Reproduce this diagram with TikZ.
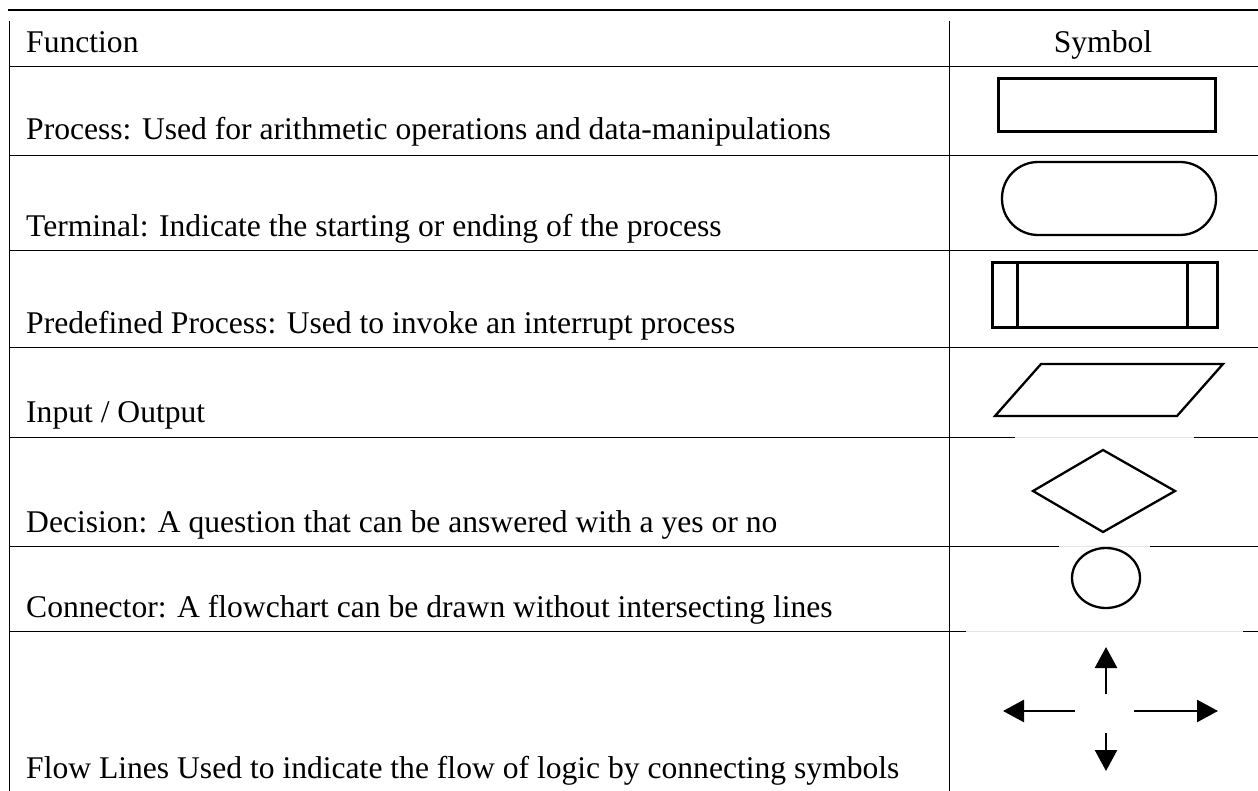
\documentclass[tikz,border=0pt]{standalone}
\usepackage{fontspec}
\setmainfont{Liberation Serif}
\usetikzlibrary{arrows.meta}
\begin{document}
\begin{tikzpicture}[x=1pt,y=-1pt,
  rule/.style={line width=1pt},
  toprule/.style={line width=2.4pt},
  gaprule/.style={line width=1pt, black!10},
  symthick/.style={line width=3pt, line join=miter},
  symthin/.style={line width=2.3pt, line join=miter},
  label/.style={anchor=base west, inner sep=0pt, font=\fontsize{31.6}{36}\selectfont},
  head/.style={anchor=base, inner sep=0pt, font=\fontsize{31.6}{36}\selectfont},
  flow/.style={line width=2.6pt, -{Triangle[length=21pt,width=22pt]}}
]
\useasboundingbox (0,0) rectangle (1258,791);

% table frame and rules
\draw[toprule] (8,10) -- (1258,10);
\draw[rule] (9,21) -- (9,791);
\draw[rule] (949,21) -- (949,791);
\foreach \y in {67,156,251,348}
  \draw[rule] (9,\y) -- (1258,\y);
\draw[rule] (9,437) -- (1015,437);
\draw[gaprule] (1015,437) -- (1194,437);
\draw[rule] (1194,437) -- (1258,437);
\draw[rule] (9,546) -- (1059,546);
\draw[gaprule] (1059,546) -- (1150,546);
\draw[rule] (1150,546) -- (1258,546);
\draw[rule] (9,631) -- (966,631);
\draw[gaprule] (966,631) -- (1243,631);
\draw[rule] (1243,631) -- (1258,631);

% header
\node[label] (hfun) at (26,53) {Function};
\node[head] (hsym) at (1103,53) {Symbol};

% function descriptions
\node[label] (tproc) at (26,140) {Process: Used for arithmetic operations and data-manipulations};
\node[label] (tterm) at (26,237) {Terminal: Indicate the starting or ending of the process};
\node[label] (tpre)  at (26,334) {Predefined Process: Used to invoke an interrupt process};
\node[label] (tio)   at (26,422) {Input / Output};
\node[label] (tdec)  at (26,532) {Decision: A question that can be answered with a yes or no};
\node[label] (tcon)  at (26,617) {Connector: A flowchart can be drawn without intersecting lines};
\node[label] (tflow) at (26,778) {Flow Lines Used to indicate the flow of logic by connecting symbols};

% symbols
\draw[symthick] (998,79) rectangle (1215,132);
\draw[symthin, rounded corners=36pt] (1002,162) rectangle (1216,235);
\draw[symthick] (992,263) rectangle (1217,328);
\draw[symthick] (1017,263) -- (1017,328);
\draw[symthick] (1187,263) -- (1187,328);
\draw[symthin] (995,416) -- (1041,364) -- (1223,364) -- (1177,416) -- cycle;
\draw[symthin] (1103,450) -- (1175,491) -- (1103,532) -- (1033,491) -- cycle;
\draw[symthin] (1106,578) ellipse [x radius=34, y radius=30];

% flow line arrows
\coordinate (upA) at (1106,694);  \coordinate (upB) at (1106,647);
\coordinate (lfA) at (1075,711);  \coordinate (lfB) at (1003,711);
\coordinate (rtA) at (1134,711);  \coordinate (rtB) at (1218,711);
\coordinate (dnA) at (1106,733);  \coordinate (dnB) at (1106,771);
\draw[flow] (upA) -- (upB);
\draw[flow] (lfA) -- (lfB);
\draw[flow] (rtA) -- (rtB);
\draw[flow] (dnA) -- (dnB);
\end{tikzpicture}
\end{document}
